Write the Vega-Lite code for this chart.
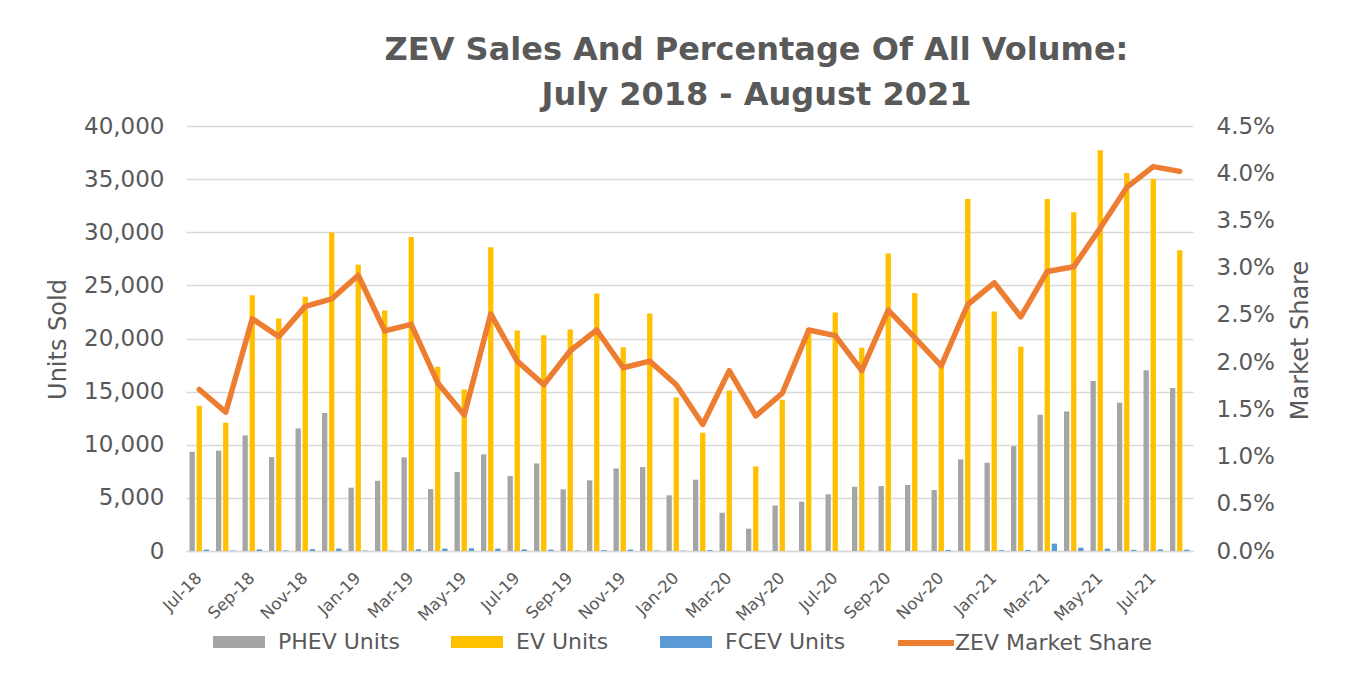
{
  "$schema": "https://vega.github.io/schema/vega-lite/v6.json",
  "autosize": "none",
  "width": 1007,
  "height": 425,
  "padding": {"left": 186, "top": 126, "right": 158, "bottom": 122},
  "background": "white",
  "config": {
    "font": "DejaVu Sans",
    "view": {"stroke": null},
    "axis": {"labelColor": "#595959", "titleColor": "#595959", "titleFontWeight": "normal"}
  },
  "title": {
    "text": ["ZEV Sales And Percentage Of All Volume:", "July 2018 - August 2021"],
    "font": "DejaVu Sans",
    "fontSize": 32,
    "fontWeight": "bold",
    "color": "#595959",
    "lineHeight": 45,
    "anchor": "middle",
    "frame": "group",
    "dx": 67,
    "offset": 3
  },
  "datasets": {
    "units": [
      {"month": "Jul-18", "series": "PHEV Units", "units": 9340},
      {"month": "Jul-18", "series": "EV Units", "units": 13670},
      {"month": "Jul-18", "series": "FCEV Units", "units": 130},
      {"month": "Aug-18", "series": "PHEV Units", "units": 9440},
      {"month": "Aug-18", "series": "EV Units", "units": 12070},
      {"month": "Aug-18", "series": "FCEV Units", "units": 40},
      {"month": "Sep-18", "series": "PHEV Units", "units": 10880},
      {"month": "Sep-18", "series": "EV Units", "units": 24080},
      {"month": "Sep-18", "series": "FCEV Units", "units": 150},
      {"month": "Oct-18", "series": "PHEV Units", "units": 8840},
      {"month": "Oct-18", "series": "EV Units", "units": 21880},
      {"month": "Oct-18", "series": "FCEV Units", "units": 50},
      {"month": "Nov-18", "series": "PHEV Units", "units": 11540},
      {"month": "Nov-18", "series": "EV Units", "units": 23920},
      {"month": "Nov-18", "series": "FCEV Units", "units": 170},
      {"month": "Dec-18", "series": "PHEV Units", "units": 13000},
      {"month": "Dec-18", "series": "EV Units", "units": 29970},
      {"month": "Dec-18", "series": "FCEV Units", "units": 230},
      {"month": "Jan-19", "series": "PHEV Units", "units": 5960},
      {"month": "Jan-19", "series": "EV Units", "units": 26930},
      {"month": "Jan-19", "series": "FCEV Units", "units": 40},
      {"month": "Feb-19", "series": "PHEV Units", "units": 6610},
      {"month": "Feb-19", "series": "EV Units", "units": 22630},
      {"month": "Feb-19", "series": "FCEV Units", "units": 30},
      {"month": "Mar-19", "series": "PHEV Units", "units": 8810},
      {"month": "Mar-19", "series": "EV Units", "units": 29560},
      {"month": "Mar-19", "series": "FCEV Units", "units": 160},
      {"month": "Apr-19", "series": "PHEV Units", "units": 5830},
      {"month": "Apr-19", "series": "EV Units", "units": 17350},
      {"month": "Apr-19", "series": "FCEV Units", "units": 230},
      {"month": "May-19", "series": "PHEV Units", "units": 7430},
      {"month": "May-19", "series": "EV Units", "units": 15200},
      {"month": "May-19", "series": "FCEV Units", "units": 260},
      {"month": "Jun-19", "series": "PHEV Units", "units": 9090},
      {"month": "Jun-19", "series": "EV Units", "units": 28600},
      {"month": "Jun-19", "series": "FCEV Units", "units": 230},
      {"month": "Jul-19", "series": "PHEV Units", "units": 7050},
      {"month": "Jul-19", "series": "EV Units", "units": 20750},
      {"month": "Jul-19", "series": "FCEV Units", "units": 150},
      {"month": "Aug-19", "series": "PHEV Units", "units": 8240},
      {"month": "Aug-19", "series": "EV Units", "units": 20310},
      {"month": "Aug-19", "series": "FCEV Units", "units": 130},
      {"month": "Sep-19", "series": "PHEV Units", "units": 5800},
      {"month": "Sep-19", "series": "EV Units", "units": 20850},
      {"month": "Sep-19", "series": "FCEV Units", "units": 40},
      {"month": "Oct-19", "series": "PHEV Units", "units": 6650},
      {"month": "Oct-19", "series": "EV Units", "units": 24230},
      {"month": "Oct-19", "series": "FCEV Units", "units": 80},
      {"month": "Nov-19", "series": "PHEV Units", "units": 7770},
      {"month": "Nov-19", "series": "EV Units", "units": 19180},
      {"month": "Nov-19", "series": "FCEV Units", "units": 130},
      {"month": "Dec-19", "series": "PHEV Units", "units": 7900},
      {"month": "Dec-19", "series": "EV Units", "units": 22350},
      {"month": "Dec-19", "series": "FCEV Units", "units": 40},
      {"month": "Jan-20", "series": "PHEV Units", "units": 5240},
      {"month": "Jan-20", "series": "EV Units", "units": 14450},
      {"month": "Jan-20", "series": "FCEV Units", "units": 30},
      {"month": "Feb-20", "series": "PHEV Units", "units": 6710},
      {"month": "Feb-20", "series": "EV Units", "units": 11130},
      {"month": "Feb-20", "series": "FCEV Units", "units": 80},
      {"month": "Mar-20", "series": "PHEV Units", "units": 3600},
      {"month": "Mar-20", "series": "EV Units", "units": 15100},
      {"month": "Mar-20", "series": "FCEV Units", "units": 20},
      {"month": "Apr-20", "series": "PHEV Units", "units": 2100},
      {"month": "Apr-20", "series": "EV Units", "units": 7960},
      {"month": "Apr-20", "series": "FCEV Units", "units": 10},
      {"month": "May-20", "series": "PHEV Units", "units": 4290},
      {"month": "May-20", "series": "EV Units", "units": 14230},
      {"month": "May-20", "series": "FCEV Units", "units": 5},
      {"month": "Jun-20", "series": "PHEV Units", "units": 4640},
      {"month": "Jun-20", "series": "EV Units", "units": 21000},
      {"month": "Jun-20", "series": "FCEV Units", "units": 5},
      {"month": "Jul-20", "series": "PHEV Units", "units": 5330},
      {"month": "Jul-20", "series": "EV Units", "units": 22450},
      {"month": "Jul-20", "series": "FCEV Units", "units": 10},
      {"month": "Aug-20", "series": "PHEV Units", "units": 6050},
      {"month": "Aug-20", "series": "EV Units", "units": 19120},
      {"month": "Aug-20", "series": "FCEV Units", "units": 20},
      {"month": "Sep-20", "series": "PHEV Units", "units": 6110},
      {"month": "Sep-20", "series": "EV Units", "units": 27990},
      {"month": "Sep-20", "series": "FCEV Units", "units": 10},
      {"month": "Oct-20", "series": "PHEV Units", "units": 6210},
      {"month": "Oct-20", "series": "EV Units", "units": 24290},
      {"month": "Oct-20", "series": "FCEV Units", "units": 10},
      {"month": "Nov-20", "series": "PHEV Units", "units": 5740},
      {"month": "Nov-20", "series": "EV Units", "units": 17340},
      {"month": "Nov-20", "series": "FCEV Units", "units": 100},
      {"month": "Dec-20", "series": "PHEV Units", "units": 8620},
      {"month": "Dec-20", "series": "EV Units", "units": 33130},
      {"month": "Dec-20", "series": "FCEV Units", "units": 5},
      {"month": "Jan-21", "series": "PHEV Units", "units": 8310},
      {"month": "Jan-21", "series": "EV Units", "units": 22540},
      {"month": "Jan-21", "series": "FCEV Units", "units": 80},
      {"month": "Feb-21", "series": "PHEV Units", "units": 9870},
      {"month": "Feb-21", "series": "EV Units", "units": 19220},
      {"month": "Feb-21", "series": "FCEV Units", "units": 100},
      {"month": "Mar-21", "series": "PHEV Units", "units": 12820},
      {"month": "Mar-21", "series": "EV Units", "units": 33130},
      {"month": "Mar-21", "series": "FCEV Units", "units": 690},
      {"month": "Apr-21", "series": "PHEV Units", "units": 13130},
      {"month": "Apr-21", "series": "EV Units", "units": 31880},
      {"month": "Apr-21", "series": "FCEV Units", "units": 310},
      {"month": "May-21", "series": "PHEV Units", "units": 15990},
      {"month": "May-21", "series": "EV Units", "units": 37710},
      {"month": "May-21", "series": "FCEV Units", "units": 220},
      {"month": "Jun-21", "series": "PHEV Units", "units": 13950},
      {"month": "Jun-21", "series": "EV Units", "units": 35580},
      {"month": "Jun-21", "series": "FCEV Units", "units": 110},
      {"month": "Jul-21", "series": "PHEV Units", "units": 17020},
      {"month": "Jul-21", "series": "EV Units", "units": 35020},
      {"month": "Jul-21", "series": "FCEV Units", "units": 150},
      {"month": "Aug-21", "series": "PHEV Units", "units": 15330},
      {"month": "Aug-21", "series": "EV Units", "units": 28310},
      {"month": "Aug-21", "series": "FCEV Units", "units": 120}
    ],
    "share": [
      {"month": "Jul-18", "series": "ZEV Market Share", "share": 0.0171},
      {"month": "Aug-18", "series": "ZEV Market Share", "share": 0.0147},
      {"month": "Sep-18", "series": "ZEV Market Share", "share": 0.0246},
      {"month": "Oct-18", "series": "ZEV Market Share", "share": 0.0227},
      {"month": "Nov-18", "series": "ZEV Market Share", "share": 0.0259},
      {"month": "Dec-18", "series": "ZEV Market Share", "share": 0.0267},
      {"month": "Jan-19", "series": "ZEV Market Share", "share": 0.0292},
      {"month": "Feb-19", "series": "ZEV Market Share", "share": 0.0233},
      {"month": "Mar-19", "series": "ZEV Market Share", "share": 0.024},
      {"month": "Apr-19", "series": "ZEV Market Share", "share": 0.0178},
      {"month": "May-19", "series": "ZEV Market Share", "share": 0.0144},
      {"month": "Jun-19", "series": "ZEV Market Share", "share": 0.0251},
      {"month": "Jul-19", "series": "ZEV Market Share", "share": 0.0201},
      {"month": "Aug-19", "series": "ZEV Market Share", "share": 0.0176},
      {"month": "Sep-19", "series": "ZEV Market Share", "share": 0.0212},
      {"month": "Oct-19", "series": "ZEV Market Share", "share": 0.0234},
      {"month": "Nov-19", "series": "ZEV Market Share", "share": 0.0194},
      {"month": "Dec-19", "series": "ZEV Market Share", "share": 0.0201},
      {"month": "Jan-20", "series": "ZEV Market Share", "share": 0.0176},
      {"month": "Feb-20", "series": "ZEV Market Share", "share": 0.0134},
      {"month": "Mar-20", "series": "ZEV Market Share", "share": 0.0191},
      {"month": "Apr-20", "series": "ZEV Market Share", "share": 0.0143},
      {"month": "May-20", "series": "ZEV Market Share", "share": 0.0167},
      {"month": "Jun-20", "series": "ZEV Market Share", "share": 0.0234},
      {"month": "Jul-20", "series": "ZEV Market Share", "share": 0.0228},
      {"month": "Aug-20", "series": "ZEV Market Share", "share": 0.0191},
      {"month": "Sep-20", "series": "ZEV Market Share", "share": 0.0255},
      {"month": "Oct-20", "series": "ZEV Market Share", "share": 0.0226},
      {"month": "Nov-20", "series": "ZEV Market Share", "share": 0.0196},
      {"month": "Dec-20", "series": "ZEV Market Share", "share": 0.0261},
      {"month": "Jan-21", "series": "ZEV Market Share", "share": 0.0284},
      {"month": "Feb-21", "series": "ZEV Market Share", "share": 0.0248},
      {"month": "Mar-21", "series": "ZEV Market Share", "share": 0.0296},
      {"month": "Apr-21", "series": "ZEV Market Share", "share": 0.0301},
      {"month": "May-21", "series": "ZEV Market Share", "share": 0.0342},
      {"month": "Jun-21", "series": "ZEV Market Share", "share": 0.0385},
      {"month": "Jul-21", "series": "ZEV Market Share", "share": 0.0407},
      {"month": "Aug-21", "series": "ZEV Market Share", "share": 0.0402}
    ]
  },
  "layer": [
    {
      "data": {"name": "units"},
      "mark": {"type": "bar"},
      "encoding": {
        "x": {
          "field": "month",
          "type": "nominal",
          "sort": null,
          "scale": {"paddingInner": 0.264, "paddingOuter": 0.132},
          "axis": {
            "title": null,
            "values": ["Jul-18", "Sep-18", "Nov-18", "Jan-19", "Mar-19", "May-19", "Jul-19", "Sep-19", "Nov-19", "Jan-20", "Mar-20", "May-20", "Jul-20", "Sep-20", "Nov-20", "Jan-21", "Mar-21", "May-21", "Jul-21"],
            "labelAngle": -45,
            "labelAlign": "right",
            "labelBaseline": "middle",
            "labelFontSize": 16.5,
            "labelPadding": 24,
            "ticks": false,
            "domain": true,
            "domainColor": "#d9d9d9",
            "domainWidth": 1.5,
            "grid": false
          }
        },
        "xOffset": {
          "field": "series",
          "type": "nominal",
          "sort": ["PHEV Units", "EV Units", "FCEV Units"],
          "scale": {"paddingInner": 0.25, "paddingOuter": 0}
        },
        "y": {
          "field": "units",
          "type": "quantitative",
          "scale": {"domain": [0, 40000]},
          "axis": {
            "values": [0, 5000, 10000, 15000, 20000, 25000, 30000, 35000, 40000],
            "format": ",.0f",
            "grid": true,
            "gridColor": "#d9d9d9",
            "gridWidth": 1.3,
            "domain": false,
            "ticks": false,
            "labelFontSize": 23,
            "labelPadding": 22,
            "title": "Units Sold",
            "titleFontSize": 24,
            "titleAngle": 270,
            "titleBaseline": "alphabetic",
            "titleAlign": "center",
            "titleX": -121,
            "titleY": 213
          }
        },
        "color": {
          "field": "series",
          "type": "nominal",
          "sort": ["PHEV Units", "EV Units", "FCEV Units"],
          "scale": {"domain": ["PHEV Units", "EV Units", "FCEV Units"], "range": ["#A5A5A5", "#FFC000", "#5B9BD5"]},
          "legend": {
            "title": null,
            "orient": "none",
            "direction": "horizontal",
            "legendX": 27,
            "legendY": 490,
            "symbolType": "M-1,-0.23H1V0.23H-1Z",
            "symbolSize": 2704,
            "symbolStrokeWidth": 0,
            "labelFontSize": 22,
            "labelColor": "#595959",
            "labelOffset": 13,
            "columnPadding": 51,
            "labelLimit": 400
          }
        }
      }
    },
    {
      "data": {"name": "share"},
      "mark": {"type": "line", "strokeWidth": 5.5, "strokeJoin": "round", "strokeCap": "round"},
      "encoding": {
        "x": {"field": "month", "type": "nominal", "sort": null},
        "y": {
          "field": "share",
          "type": "quantitative",
          "scale": {"domain": [0, 0.045]},
          "axis": {
            "orient": "right",
            "values": [0, 0.005, 0.01, 0.015, 0.02, 0.025, 0.03, 0.035, 0.04, 0.045],
            "format": ".1%",
            "grid": false,
            "domain": false,
            "ticks": false,
            "labelFontSize": 23,
            "labelPadding": 23,
            "title": "Market Share",
            "titleFontSize": 24,
            "titleAngle": 270,
            "titleBaseline": "alphabetic",
            "titleAlign": "center",
            "titleX": 114,
            "titleY": 214
          }
        },
        "stroke": {
          "field": "series",
          "type": "nominal",
          "scale": {"domain": ["ZEV Market Share"], "range": ["#ED7D31"]},
          "legend": {
            "title": null,
            "orient": "none",
            "legendX": 709,
            "legendY": 486,
            "symbolType": "stroke",
            "symbolSize": 3136,
            "symbolStrokeWidth": 6,
            "labelFontSize": 22,
            "labelColor": "#595959",
            "labelOffset": -2,
            "labelLimit": 400
          }
        }
      }
    }
  ],
  "resolve": {"scale": {"y": "independent"}}
}
